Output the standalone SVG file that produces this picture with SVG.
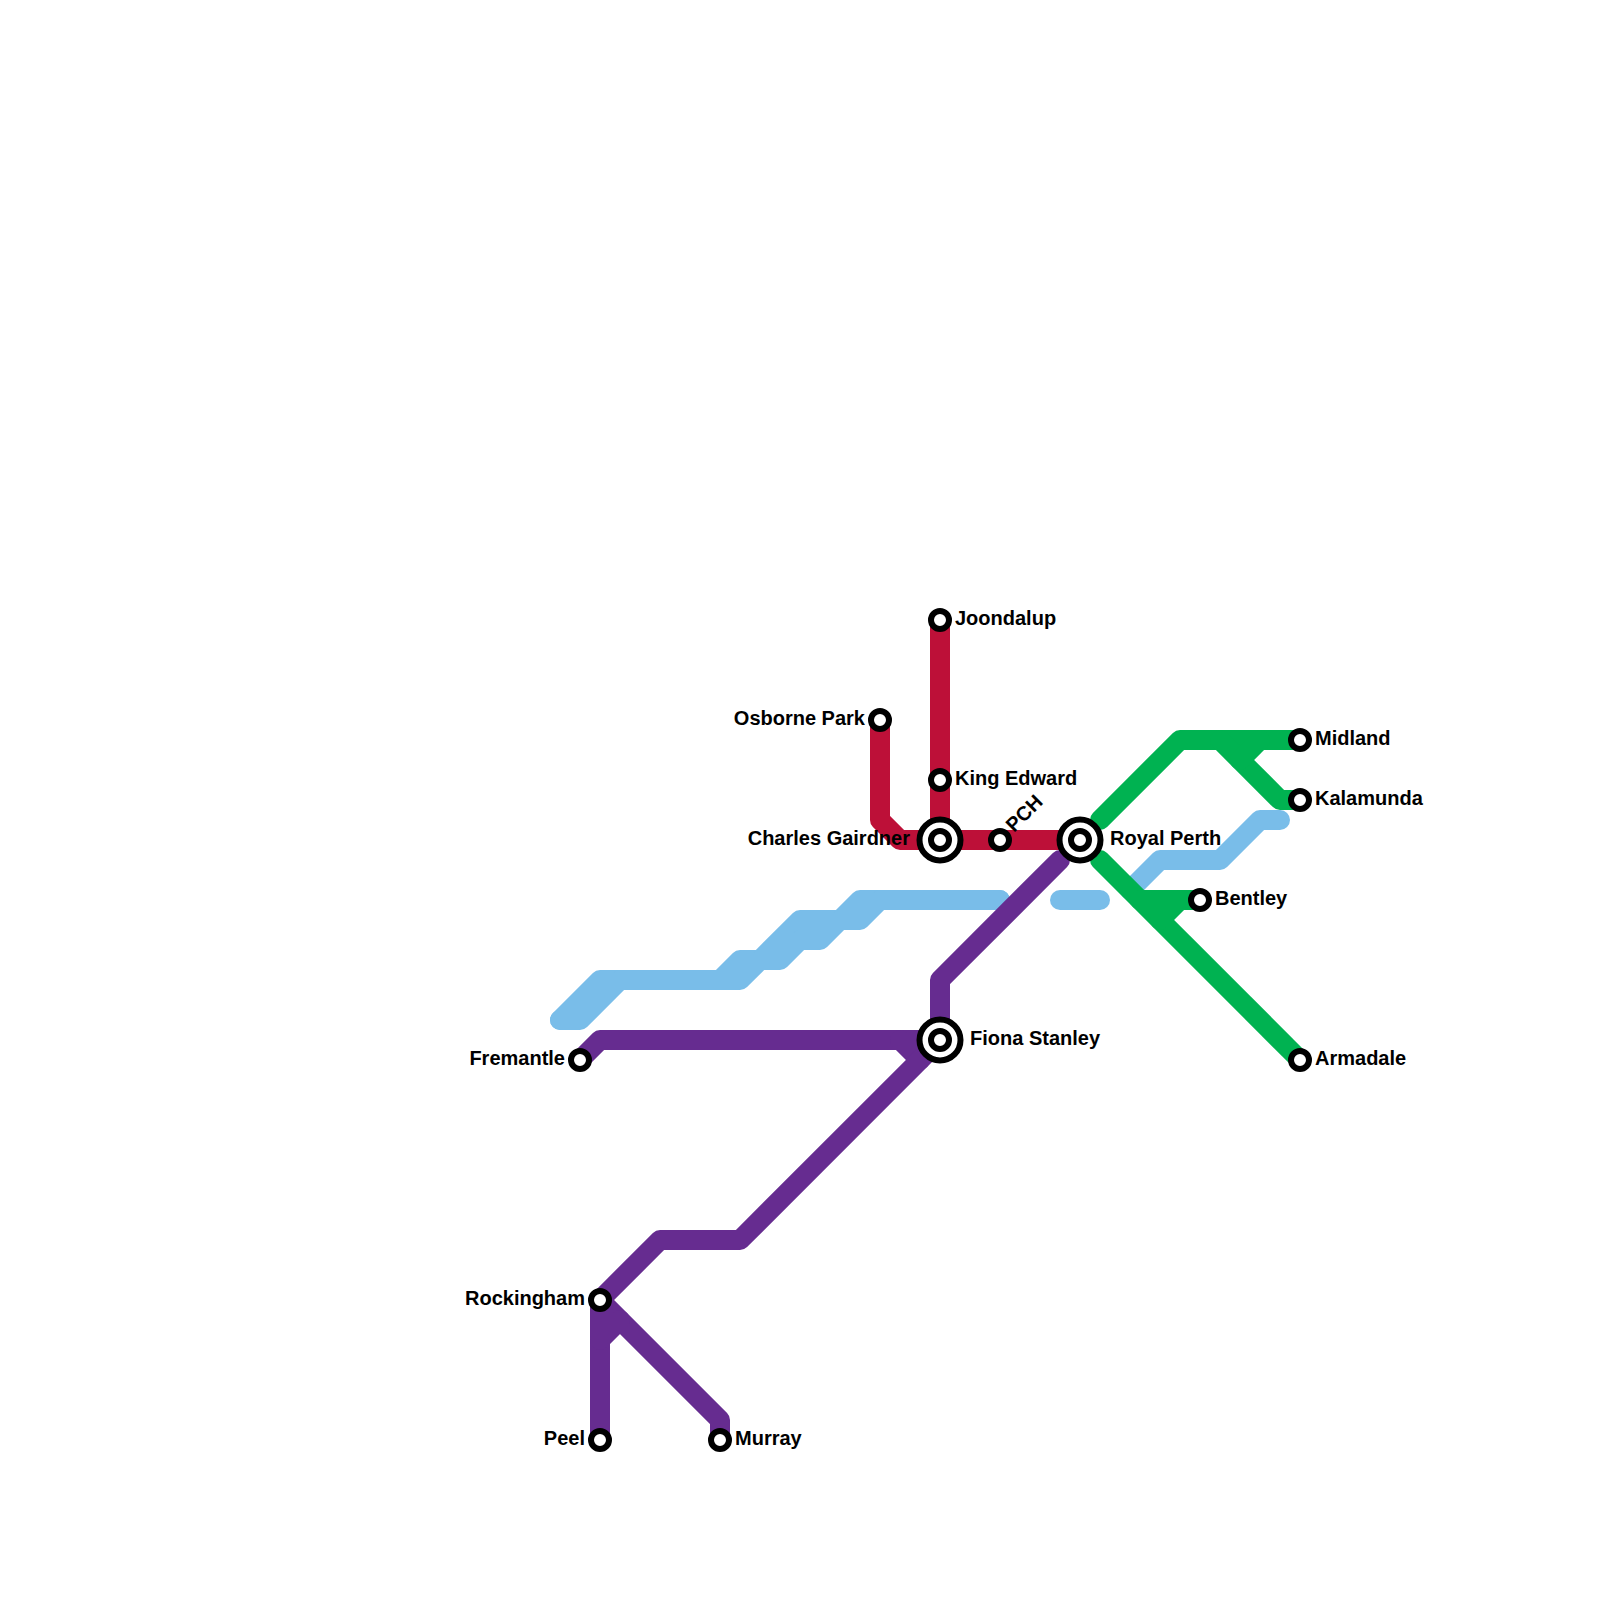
<svg xmlns="http://www.w3.org/2000/svg" width="1600" height="1600" viewBox="0 0 1600 1600">
<style>
.l{fill:none;stroke-width:20;stroke-linecap:round;stroke-linejoin:round}
.blue{stroke:#79bde9}.green{stroke:#00b251}.red{stroke:#bd1038}.purple{stroke:#662c90}
.s{fill:#fff;stroke:#000;stroke-width:6}
.o{fill:#fff;stroke:#000;stroke-width:6}
text{font-family:"Liberation Sans",Arial,sans-serif;font-weight:700;font-size:20px;fill:#000}
.e{text-anchor:end}
</style>
<defs>
<g id="st"><circle class="s" r="9"/></g>
<g id="ix"><circle class="o" r="20.5"/><circle class="s" r="9"/></g>
</defs>
<rect width="1600" height="1600" fill="#fff"/>
<g id="connectors">
<g class="l blue">
<path d="M1000 900H860L840 920H800L760 960H740L720 980H600L560 1020"/>
<path d="M1000 900H880L860 920H840L820 940H800L780 960H760L740 980H620L580 1020H560"/>
<path d="M1060 900H1100"/>
<path d="M1280 820H1260L1220 860H1160L1130 890"/>
</g>
<g class="l green">
<path d="M1100 820L1180 740H1300"/>
<path d="M1220 740L1280 800H1300"/>
<path d="M1260 740L1240 760"/>
<path d="M1100 860L1300 1060"/>
<path d="M1140 900H1200"/>
<path d="M1180 900L1160 920"/>
</g>
<g class="l red">
<path d="M940 620V840H1080"/>
<path d="M880 720V820L900 840H940"/>
</g>
<g class="l purple">
<path d="M1060 860L940 980V1040"/>
<path d="M940 1040H600L580 1060"/>
<path d="M900 1040L920 1060"/>
<path d="M940 1040L740 1240H660L600 1300"/>
<path d="M600 1300L720 1420V1440"/>
<path d="M600 1300V1440"/>
<path d="M600 1340L620 1320"/>
</g>
</g>
<g id="joondalup"><use href="#st" x="940" y="620"/><text x="955" y="625">Joondalup</text></g>
<g id="osborne-park"><use href="#st" x="880" y="720"/><text class="e" x="865" y="725">Osborne Park</text></g>
<g id="king-edward"><use href="#st" x="940" y="780"/><text x="955" y="785">King Edward</text></g>
<g id="charles-gairdner"><use href="#ix" x="940" y="840"/><text class="e" x="910" y="845">Charles Gairdner</text></g>
<g id="pch"><use href="#st" x="1000" y="840"/><text transform="translate(1014 833) rotate(-45)">PCH</text></g>
<g id="royal-perth"><use href="#ix" x="1080" y="840"/><text x="1110" y="845">Royal Perth</text></g>
<g id="midland"><use href="#st" x="1300" y="740"/><text x="1315" y="745">Midland</text></g>
<g id="kalamunda"><use href="#st" x="1300" y="800"/><text x="1315" y="805">Kalamunda</text></g>
<g id="bentley"><use href="#st" x="1200" y="900"/><text x="1215" y="905">Bentley</text></g>
<g id="armadale"><use href="#st" x="1300" y="1060"/><text x="1315" y="1065">Armadale</text></g>
<g id="fiona-stanley"><use href="#ix" x="940" y="1040"/><text x="970" y="1045">Fiona Stanley</text></g>
<g id="fremantle"><use href="#st" x="580" y="1060"/><text class="e" x="565" y="1065">Fremantle</text></g>
<g id="rockingham"><use href="#st" x="600" y="1300"/><text class="e" x="585" y="1305">Rockingham</text></g>
<g id="peel"><use href="#st" x="600" y="1440"/><text class="e" x="585" y="1445">Peel</text></g>
<g id="murray"><use href="#st" x="720" y="1440"/><text x="735" y="1445">Murray</text></g>
</svg>
